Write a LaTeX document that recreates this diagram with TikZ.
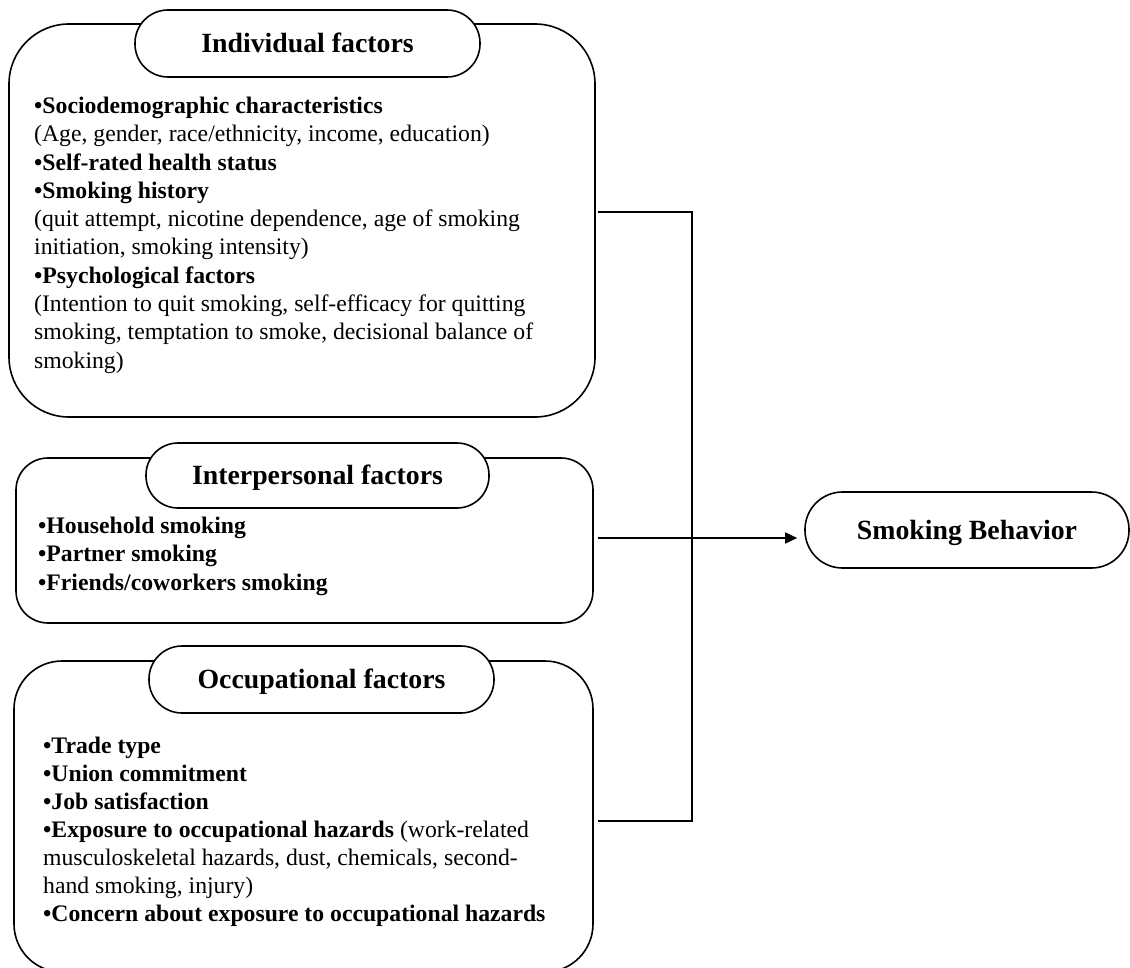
\documentclass[tikz,border=0pt]{standalone}
\usepackage{fontspec}
\setmainfont{Liberation Serif}
\usetikzlibrary{arrows.meta}
\begin{document}
\begin{tikzpicture}[x=1pt,y=-1pt,
  box/.style={draw, line width=1.6pt, inner sep=0pt},
  pill/.style={draw, fill=white, line width=1.6pt, inner sep=0pt,
    font=\fontsize{27.8}{30}\selectfont\bfseries, text height=18.5pt, text depth=0pt},
  body/.style={anchor=north west, inner sep=0pt, align=left},
  conn/.style={line width=1.6pt}
]
\useasboundingbox (0,0) rectangle (1130,968);
% boxes
\node[box, rounded corners=60pt, minimum width=586pt, minimum height=393pt] (ind) at (302,220.5) {};
\node[box, rounded corners=32pt, minimum width=577pt, minimum height=165pt] (inter) at (304.5,540.5) {};
\node[box, rounded corners=48pt, minimum width=579pt, minimum height=311pt] (occ) at (303.5,816.5) {};
% titles
\node[pill, rounded corners=33pt, minimum width=345pt, minimum height=67pt] (indt) at (307.5,43.5) {Individual factors};
\node[pill, rounded corners=32pt, minimum width=343pt, minimum height=65pt] (intert) at (317.5,475.5) {Interpersonal factors};
\node[pill, rounded corners=33pt, minimum width=345pt, minimum height=67pt] (occt) at (321.5,679.5) {Occupational factors};
\node[pill, fill=none, rounded corners=37.5pt, minimum width=324pt, minimum height=76pt] (smoke) at (967,530) {Smoking Behavior};
% body texts
\node[body, font=\fontsize{23.7}{28.3}\selectfont] (indtx) at (34,96.8) {%
\textbf{•Sociodemographic characteristics}\\
(Age, gender, race/ethnicity, income, education)\\
\textbf{•Self-rated health status}\\
\textbf{•Smoking history}\\
(quit attempt, nicotine dependence, age of smoking\\
initiation, smoking intensity)\\
\textbf{•Psychological factors}\\
(Intention to quit smoking, self-efficacy for quitting\\
smoking, temptation to smoke, decisional balance of\\
smoking)};
\node[body, font=\fontsize{23.7}{28.5}\selectfont\bfseries] (intertx) at (38,516.8) {%
•Household smoking\\
•Partner smoking\\
•Friends/coworkers smoking};
\node[body, font=\fontsize{23.7}{28}\selectfont] (occtx) at (43,736.8) {%
\textbf{•Trade type}\\
\textbf{•Union commitment}\\
\textbf{•Job satisfaction}\\
\textbf{•Exposure to occupational hazards} (work-related\\
musculoskeletal hazards, dust, chemicals, second-\\
hand smoking, injury)\\
\textbf{•Concern about exposure to occupational hazards}};
% connectors
\coordinate (jt) at (692,212);
\coordinate (jb) at (692,821);
\coordinate (ay) at (0,538);
\draw[conn, shorten <=2pt, shorten >=4pt] (ind.east |- jt) -- (jt) -- (jb) -- (occ.east |- jb);
\draw[conn, -{Triangle[length=12pt,width=11pt]}, shorten <=4pt, shorten >=7pt] (inter.east |- ay) -- (smoke.west |- ay);
\end{tikzpicture}
\end{document}
